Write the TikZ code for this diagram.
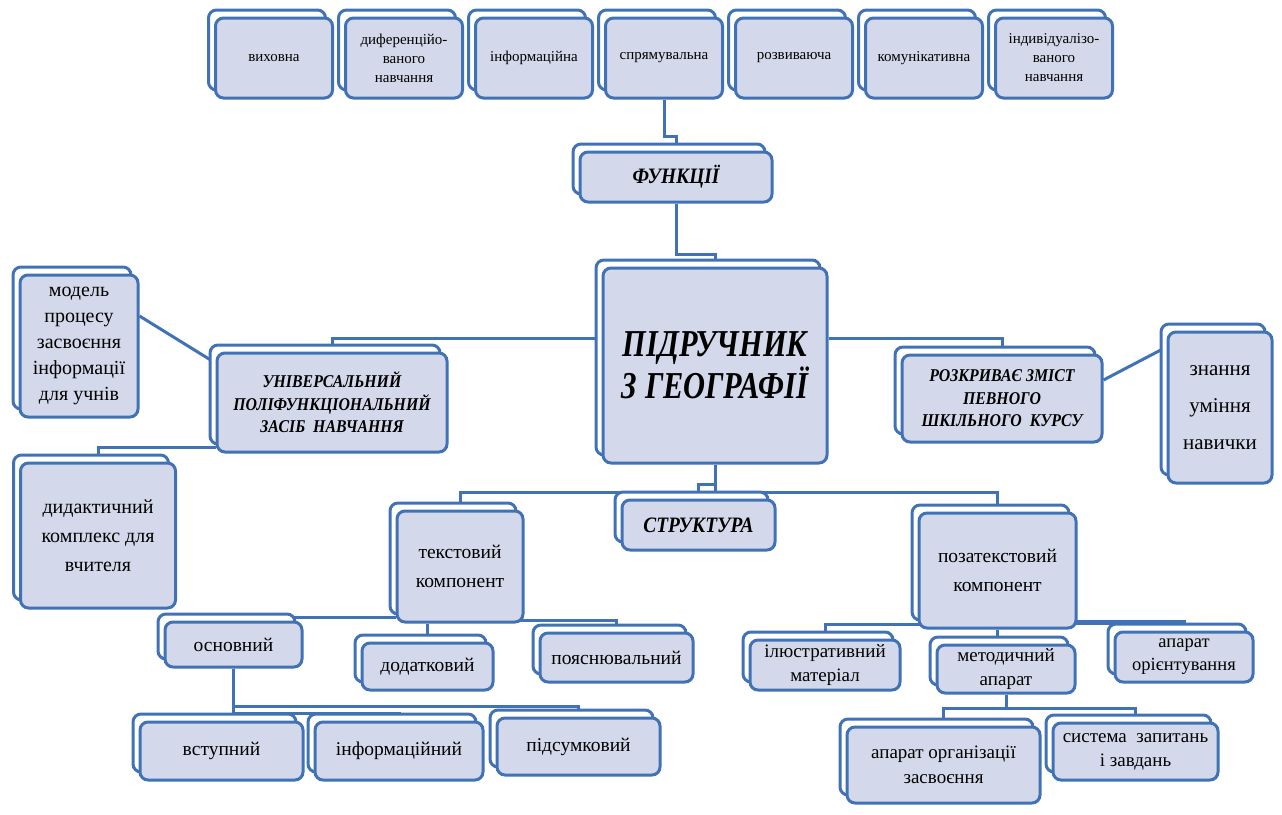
\documentclass[tikz,border=0pt]{standalone}
\usepackage{fontspec}
\setmainfont{Liberation Serif}
\newfontfamily\headfont[FakeStretch=0.88]{Liberation Serif}
\newfontfamily\titlefont[FakeStretch=0.8]{Liberation Serif}
\usetikzlibrary{shadows,backgrounds}
\definecolor{lineblue}{RGB}{65,114,182}
\definecolor{boxgray}{RGB}{211,217,234}
\tikzset{
  unit/.style={draw=lineblue, line width=3pt, fill=boxgray, rounded corners=8pt,
    align=center, inner sep=1pt,
    copy shadow={shadow xshift=-7pt, shadow yshift=8pt, fill=white, draw=lineblue, line width=3pt}},
  small/.style={font=\fontsize{15}{19}\selectfont},
  head/.style={font=\headfont\bfseries\itshape\fontsize{18}{22.5}\selectfont},
  link/.style={draw=lineblue, line width=3pt},
}

\begin{document}
\begin{tikzpicture}[x=1pt,y=-1pt,font=\fontsize{19.5}{27}\selectfont]
                \useasboundingbox (0,0) rectangle (1282,814);

                \node[unit,small,minimum width=117pt,minimum height=80pt] (vykh) at (274,58) {виховна};
                \node[unit,small,minimum width=117pt,minimum height=80pt] (dyf) at (404,58) {диференційо-\\ваного\\навчання};
                \node[unit,small,minimum width=117pt,minimum height=80pt] (infn) at (534,58) {інформаційна};
                \node[unit,small,minimum width=117pt,minimum height=80pt] (spr) at (664,58) {спрямувальна};
                \node[unit,small,minimum width=117pt,minimum height=80pt] (rozv) at (794,58) {розвиваюча};
                \node[unit,small,minimum width=117pt,minimum height=80pt] (komun) at (924,58) {комунікативна};
                \node[unit,small,minimum width=117pt,minimum height=80pt] (indyv) at (1054,58) {індивідуалізо-\\ваного\\навчання};

                \node[unit,head,font=\headfont\bfseries\itshape\fontsize{22}{26}\selectfont,minimum width=192pt,minimum height=50pt] (funk) at (676,177) {ФУНКЦІЇ};
                \node[unit,font=\titlefont\bfseries\itshape\fontsize{38}{42}\selectfont,minimum width=224pt,minimum height=195pt] (main) at (715,365.5) {ПІДРУЧНИК\\З ГЕОГРАФІЇ};

                \node[unit,head,minimum width=230pt,minimum height=99pt] (univ) at (332,402.5) {УНІВЕРСАЛЬНИЙ\\ПОЛІФУНКЦІОНАЛЬНИЙ\\ЗАСІБ~~НАВЧАННЯ};
                \node[unit,font=\fontsize{20}{26}\selectfont,minimum width=118pt,minimum height=142pt] (model) at (79,346) {модель\\процесу\\засвоєння\\інформації\\для учнів};
                \node[unit,font=\fontsize{20}{29}\selectfont,minimum width=155pt,minimum height=145pt] (dyd) at (98,535.5) {дидактичний\\комплекс для\\вчителя};

                \node[unit,head,minimum width=200pt,minimum height=87pt] (rozk) at (1002,398.5) {РОЗКРИВАЄ ЗМІСТ\\ПЕВНОГО\\ШКІЛЬНОГО~~КУРСУ};
                \node[unit,font=\fontsize{21}{37}\selectfont,minimum width=104pt,minimum height=151pt] (znan) at (1220,407.5) {знання\\уміння\\навички};

                \node[unit,head,font=\headfont\bfseries\itshape\fontsize{22}{26}\selectfont,minimum width=153pt,minimum height=50pt] (strukt) at (698.5,525) {СТРУКТУРА};
                \node[unit,font=\fontsize{19.5}{29}\selectfont,minimum width=126pt,minimum height=111pt] (tekst) at (460,566.5) {текстовий\\компонент};
                \node[unit,font=\fontsize{19.5}{29}\selectfont,minimum width=157pt,minimum height=115pt] (pozat) at (997.5,570.5) {позатекстовий\\компонент};

                \node[unit,minimum width=137pt,minimum height=45pt] (osn) at (233.5,644.5) {основний};
                \node[unit,minimum width=131pt,minimum height=47pt] (dod) at (427.5,666.5) {додатковий};
                \node[unit,minimum width=153pt,minimum height=49pt] (poyas) at (616.5,657.5) {пояснювальний};

                \node[unit,minimum width=163pt,minimum height=58pt] (vstup) at (221.5,751) {вступний};
                \node[unit,minimum width=168pt,minimum height=58pt] (inform) at (399,751) {інформаційний};
                \node[unit,minimum width=163pt,minimum height=57pt] (pidsum) at (578.5,746.5) {підсумковий};

                \node[unit,font=\fontsize{19}{24}\selectfont,minimum width=150pt,minimum height=50pt] (ilyus) at (825,665) {ілюстративний\\матеріал};
                \node[unit,font=\fontsize{19}{24}\selectfont,minimum width=138pt,minimum height=48pt] (metod) at (1006,669) {методичний\\апарат};
                \node[unit,font=\fontsize{18.5}{23}\selectfont,minimum width=138pt,minimum height=50pt] (aparor) at (1184,657) {апарат\\орієнтування};
                \node[unit,font=\fontsize{19}{25}\selectfont,minimum width=193pt,minimum height=76pt] (aparorg) at (943.5,765) {апарат організації\\засвоєння};
                \node[unit,font=\fontsize{19}{24}\selectfont,minimum width=165pt,minimum height=57pt] (system) at (1135.5,751.5) {система~~запитань\\і завдань};

                \begin{scope}[on background layer]
                \draw[link] (spr.south) -- ++(0,37) -| (funk);
                \draw[link] (funk.south) -- ++(0,51) -| (main);
                \draw[link] ([yshift=27.5pt]main.west) -| (univ);
                \draw[link] ([yshift=27.5pt]main.east) -| (rozk);
                \draw[link] ([yshift=30pt]model.east) -- ([yshift=39.5pt]univ.west);
                \draw[link] ([yshift=18.5pt]rozk.east) -- ([yshift=60.5pt]znan.west);
                \draw[link] ([yshift=-44.5pt]univ.west) -| (dyd);
                \draw[link] (main.south) -- ++(0,20) -| (strukt);
                \draw[link] (main.south) -- ++(0,28) -| (tekst);
                \draw[link] (main.south) -- ++(0,28) -| (pozat);
                \draw[link] ([yshift=-50.5pt]tekst.west) -| (osn);
                \draw[link] (tekst.south -| dod) -- (dod);
                \draw[link] ([yshift=3pt]tekst.south) -| (poyas);
                \draw[link] (osn.south) -- ++(0,38) -| (pidsum);
                \draw[link] (osn.south) -- ++(0,45) -| (inform);
                \draw[link] (osn.south) -- (osn.south |- vstup.north);
                \draw[link] ([yshift=5pt]pozat.south) -| (ilyus);
                \draw[link] (pozat) -- (pozat |- metod.north);
                \draw[link,line width=4.5pt] ([yshift=7pt]pozat.south) -| (aparor);
                \draw[link] (metod.south) -- ++(0,14) -| (aparorg);
                \draw[link] (metod.south) -- ++(0,14) -| (system);
                \end{scope}
             \end{tikzpicture}
\end{document}
